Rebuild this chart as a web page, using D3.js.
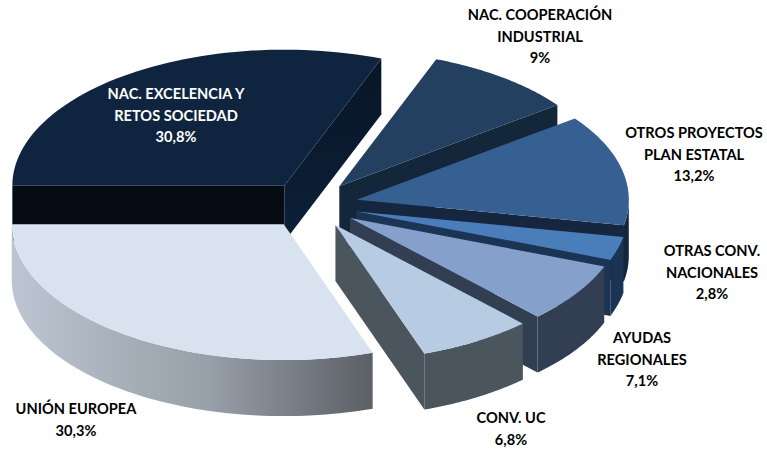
<!DOCTYPE html>
<html>
<head>
<meta charset="utf-8">
<script src="https://cdn.jsdelivr.net/npm/d3@7"></script>
<style>
    html, body { margin: 0; padding: 0; background: #fff; }
    svg { display: block; }
    text { font-family: Lato, "Open Sans", sans-serif; font-weight: 700; font-size: 14.6px; fill: #000; }
</style>
</head>
<body>
<div id="chart"></div>
<script>
const categories = ["NAC. EXCELENCIA Y RETOS SOCIEDAD", "NAC. COOPERACIÓN INDUSTRIAL", "OTROS PROYECTOS PLAN ESTATAL",
    "OTRAS CONV. NACIONALES", "AYUDAS REGIONALES", "CONV. UC", "UNIÓN EUROPEA"];
const shares = [30.8, 9, 13.2, 2.8, 7.1, 6.8, 30.3];
const shareLabels = ["30,8%", "9%", "13,2%", "2,8%", "7,1%", "6,8%", "30,3%"];

const topColors = ["#0f243e", "#244061", "#376092", "#4a7ebb", "#85a0cb", "#b7cce2", "#d9e3f0"];
const cutColors = ["url(#excelCut)", "#14263a", "#16263e", "#1c3454", "#323f52", "#4a555e", "#5d6168"];
const rimColors = ["#0a1a2d", "#14263a", "#14253f", "#1c3454", "#323f52", "#4a555e", "url(#ueRim)"];

// label lines + where each block sits on the picture
const labelLines = [
    ["NAC. EXCELENCIA Y", "RETOS SOCIEDAD"], ["NAC. COOPERACIÓN", "INDUSTRIAL"], ["OTROS PROYECTOS", "PLAN ESTATAL"],
    ["OTRAS CONV.", "NACIONALES"], ["AYUDAS", "REGIONALES"], ["CONV. UC"], ["UNIÓN EUROPEA"]
];
const labelX = [176, 540, 694, 712, 642, 511, 76];
const labelY = [99, 20, 138, 256, 343, 423, 414];

const width = 767, height = 452;
const centerX = 311, centerY = 205, radius = 272, squash = 0.5, depth = 56, explode = 47 / 272;

const svg = d3.select("#chart").append("svg")
    .attr("width", width)
    .attr("height", height);

const x = d3.scaleLinear().domain([-1, 1]).range([centerX - radius, centerX + radius]);
const y = d3.scaleLinear().domain([-1, 1]).range([centerY - radius * squash, centerY + radius * squash]);

const defs = svg.append("defs");
const ueGrad = defs.append("linearGradient").attr("id", "ueRim");
ueGrad.append("stop").attr("offset", "0%").attr("stop-color", "#bcc5d1");
ueGrad.append("stop").attr("offset", "55%").attr("stop-color", "#979fa8");
ueGrad.append("stop").attr("offset", "100%").attr("stop-color", "#5b5f66");

const excelGrad = defs.append("linearGradient").attr("id", "excelCut")
    .attr("x1", "0%").attr("y1", "0%").attr("x2", "0%").attr("y2", "100%");
excelGrad.append("stop").attr("offset", "0%").attr("stop-color", "#081626");
excelGrad.append("stop").attr("offset", "100%").attr("stop-color", "#0c2039");

const pie = d3.pie().sort(null).startAngle(-Math.PI / 2).endAngle(Math.PI * 1.5);
const arcs = pie(shares);
const line = d3.line();

function drawSlice(d, i) {
    const mid = (d.startAngle + d.endAngle) / 2;
    const ox = explode * Math.sin(mid), oy = -explode * Math.cos(mid);
    const pt = (a, r, dz) => [x(ox + r * Math.sin(a)), y(oy - r * Math.cos(a)) + dz];
    const edge = (a0, a1, dz) => d3.range(0, 61).map(k => pt(a0 + (a1 - a0) * k / 60, 1, dz));

    const g = svg.append("g").attr("class", "slice");

    // cut faces, only the ones turned towards the viewer
    if (Math.sin(d.startAngle) < 0) {
        g.append("path")
            .attr("fill", i === 0 ? "#060c14" : cutColors[i])
            .attr("d", line([pt(0, 0, 0), pt(d.startAngle, 1, 0), pt(d.startAngle, 1, depth), pt(0, 0, depth)]) + "Z");
    }
    if (Math.sin(d.endAngle) > 0) {
        g.append("path")
            .attr("fill", cutColors[i])
            .attr("d", line([pt(0, 0, 0), pt(d.endAngle, 1, 0), pt(d.endAngle, 1, depth), pt(0, 0, depth)]) + "Z");
    }

    // outer rim, front half of the ellipse
    const a0 = Math.max(d.startAngle, Math.PI / 2), a1 = Math.min(d.endAngle, Math.PI * 1.5);
    if (a1 > a0) {
        g.append("path")
            .attr("fill", rimColors[i])
            .attr("d", line(edge(a0, a1, 0).concat(edge(a1, a0, depth))) + "Z");
    }

    g.append("path")
        .attr("fill", topColors[i])
        .attr("d", line([pt(0, 0, 0)].concat(edge(d.startAngle, d.endAngle, 0))) + "Z");
}

arcs.forEach(drawSlice);

labelLines.forEach((lines, i) => {
    const t = svg.append("text")
        .attr("text-anchor", "middle")
        .attr("transform", `translate(${labelX[i]},${labelY[i]})`)
        .style("fill", i === 0 ? "#fff" : null);
    lines.concat(shareLabels[i]).forEach((s, k) => {
        t.append("tspan").attr("x", 0).attr("y", k * 21.5).text(s);
    });
});
</script>
</body>
</html>
